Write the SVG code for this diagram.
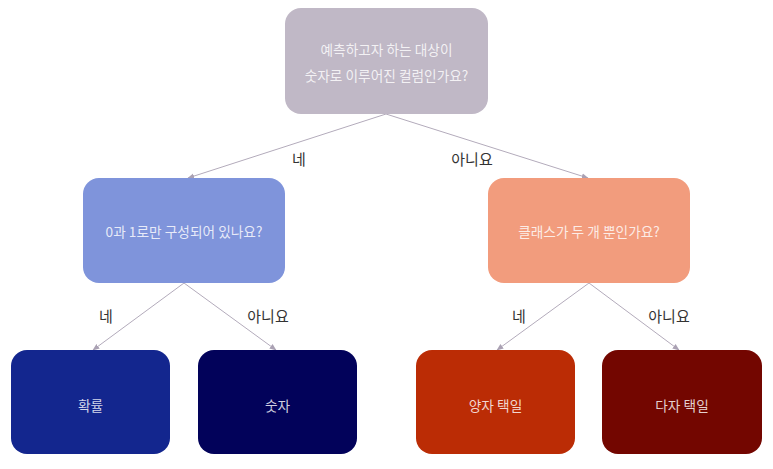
<svg xmlns="http://www.w3.org/2000/svg" width="773" height="469" viewBox="0 0 773 469">
<defs>
<marker id="arr" viewBox="0 0 10 10" refX="9" refY="5" markerWidth="7" markerHeight="7" orient="auto" markerUnits="userSpaceOnUse">
<path d="M0,1 L10,5 L0,9 Z" fill="#aaa1b3"/>
</marker>
<style>
.n text{font-family:"Noto Sans CJK KR","Noto Sans",sans-serif;font-size:13.7px;fill:#ffffff;fill-opacity:0.82;text-anchor:middle;dominant-baseline:central}
.e line{stroke:#b3abbb;stroke-width:1;marker-end:url(#arr)}
.lbl{font-family:"Noto Sans CJK KR","Noto Sans",sans-serif;font-size:15px;fill:#333333;text-anchor:middle;dominant-baseline:central}
</style>
</defs>
<rect width="773" height="469" fill="#ffffff"/>
<g class="e" id="connectors">
<line x1="386" y1="114" x2="188" y2="178"/>
<line x1="386" y1="114" x2="588" y2="178"/>
<line x1="184" y1="283" x2="93" y2="350"/>
<line x1="184" y1="283" x2="276" y2="350"/>
<line x1="589" y1="283" x2="497" y2="350"/>
<line x1="589" y1="283" x2="679" y2="350"/>
<text class="lbl" x="299" y="158">네</text>
<text class="lbl" x="472" y="158">아니요</text>
<text class="lbl" x="106" y="315">네</text>
<text class="lbl" x="268" y="315">아니요</text>
<text class="lbl" x="519" y="315">네</text>
<text class="lbl" x="669" y="315">아니요</text>
</g>
<g class="n" id="root">
<rect x="285" y="8" width="203" height="106" rx="16" fill="#c0b8c6"/>
<text x="386.5" y="49">예측하고자 하는 대상이</text>
<text x="386.5" y="75">숫자로 이루어진 컬럼인가요?</text>
</g>
<g class="n" id="q-binary">
<rect x="83" y="178" width="202" height="105" rx="16" fill="#7f94db"/>
<text x="184" y="231">0과 1로만 구성되어 있나요?</text>
</g>
<g class="n" id="q-classes">
<rect x="488" y="178" width="202" height="105" rx="16" fill="#f29c7d"/>
<text x="589" y="231">클래스가 두 개 뿐인가요?</text>
</g>
<g class="n" id="prob">
<rect x="11" y="350" width="159" height="104" rx="16" fill="#13268e"/>
<text x="90.5" y="405">확률</text>
</g>
<g class="n" id="number">
<rect x="198" y="350" width="159" height="104" rx="16" fill="#02025a"/>
<text x="277.5" y="405">숫자</text>
</g>
<g class="n" id="binary-choice">
<rect x="416" y="350" width="159" height="104" rx="16" fill="#bb2c05"/>
<text x="495.5" y="405">양자 택일</text>
</g>
<g class="n" id="multi-choice">
<rect x="602" y="350" width="160" height="104" rx="16" fill="#730600"/>
<text x="682" y="405">다자 택일</text>
</g>
</svg>
